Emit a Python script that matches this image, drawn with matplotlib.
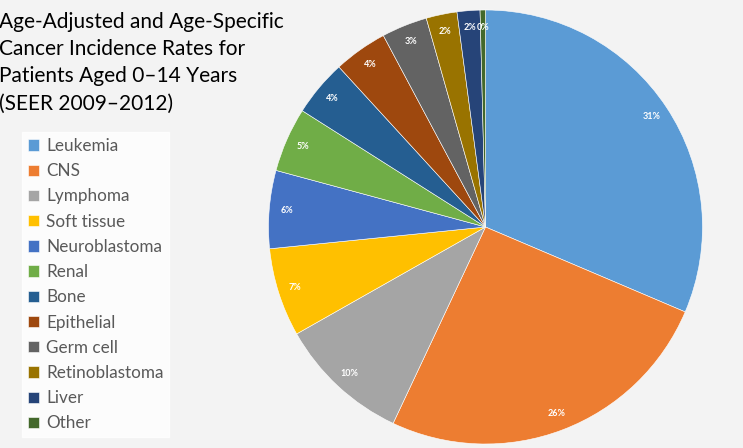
import matplotlib
matplotlib.use("Agg")
import matplotlib.pyplot as plt

# incidence share per cancer type
categories = ['Leukemia', 'CNS', 'Lymphoma', 'Soft tissue', 'Neuroblastoma', 'Renal',
              'Bone', 'Epithelial', 'Germ cell', 'Retinoblastoma', 'Liver', 'Other']
shares = [31.4, 25.6, 9.8, 6.6, 5.8, 4.8, 4.2, 4.0, 3.4, 2.3, 1.7, 0.4]
colors = ['#5B9BD5', '#ED7D31', '#A5A5A5', '#FFC000', '#4472C4', '#70AD47',
          '#255E91', '#9E480E', '#636363', '#997300', '#264478', '#43682B']

title = 'Age-Adjusted and Age-Specific\nCancer Incidence Rates for\nPatients Aged 0\u201314 Years\n(SEER 2009\u20132012)'

plt.rcParams['font.family'] = ['Lato', 'DejaVu Sans']

W, H = 743, 448
fig = plt.figure(figsize=(W / 100, H / 100), dpi=100)
fig.patch.set_facecolor('#f3f3f3')

# pie axes: centre ~(485, 227) px, radius ~217 px
cx, cy, r = 485.5, 227, 217
ax = fig.add_axes([(cx - r) / W, (H - cy - r) / H, 2 * r / W, 2 * r / H])
wedges, texts, autotexts = ax.pie(shares, colors=colors, startangle=90, counterclock=False,
                                  autopct='%.0f%%', pctdistance=0.92,
                                  wedgeprops=dict(edgecolor='white', linewidth=0.4),
                                  textprops=dict(color='white', fontsize=6.5, fontweight='bold'))
ax.set_xlim(-1, 1)
ax.set_ylim(-1, 1)
ax.set_aspect('equal')
ax.axis('off')

fig.text(-0.002, 1 - 12 / H, title, ha='left', va='top', fontsize=15, color='black',
         linespacing=1.45)

leg = fig.legend(wedges, categories, loc='upper left',
                 bbox_to_anchor=(22 / W, 1 - 132 / H), borderaxespad=0,
                 frameon=True, fancybox=False, fontsize=12.3, labelspacing=0.54,
                 handlelength=0.65, handleheight=0.65, handletextpad=0.4,
                 borderpad=0.35)
leg.get_frame().set_facecolor('white')
leg.get_frame().set_edgecolor('white')
for t in leg.get_texts():
    t.set_color('#595959')

fig.savefig('out.png', dpi=100, facecolor=fig.get_facecolor())
